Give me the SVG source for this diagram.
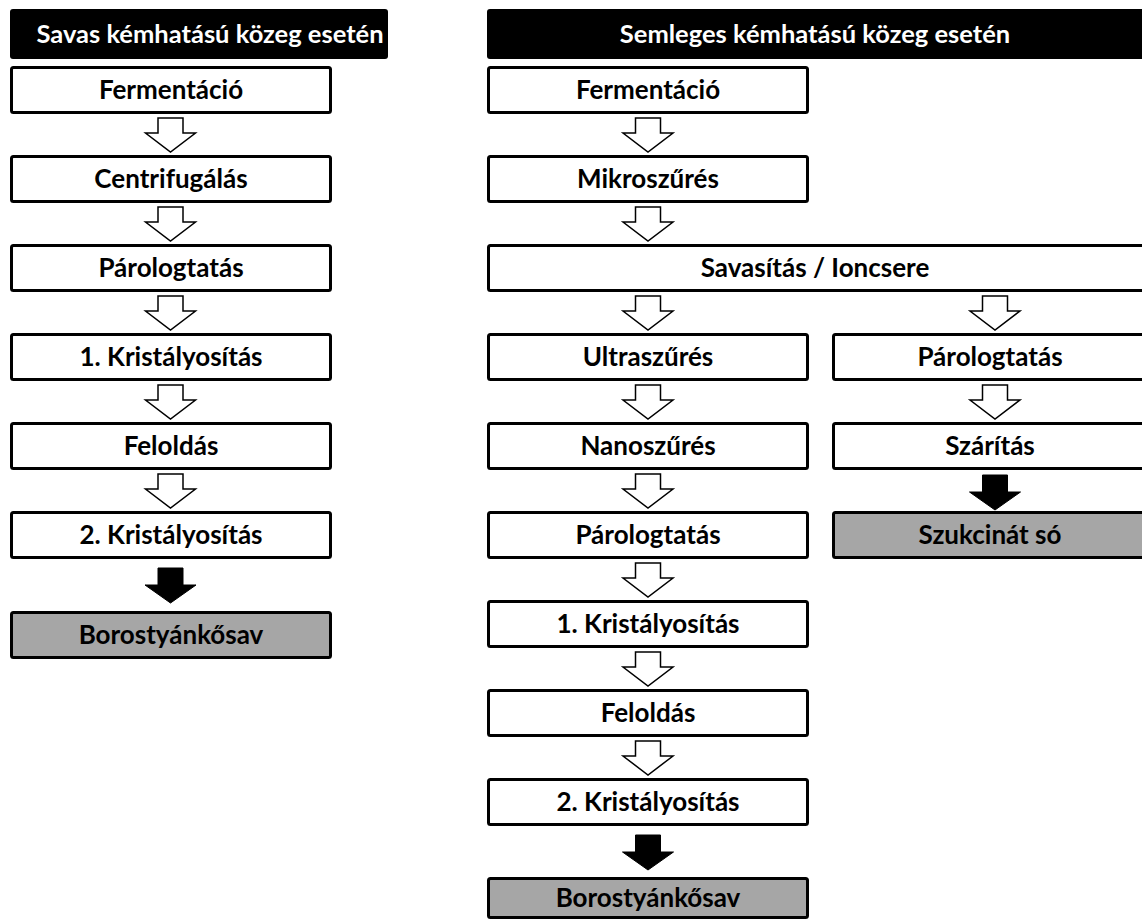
<svg xmlns="http://www.w3.org/2000/svg" width="1142" height="920" viewBox="0 0 1142 920">
<defs>
<style>
.hdr{fill:#000;}
.hdrt{fill:#fff;font-family:Lato,"Liberation Sans",sans-serif;font-weight:bold;font-size:25.5px;text-anchor:middle;}
.box{fill:#fff;stroke:#000;stroke-width:3;}
.res{fill:#a6a6a6;stroke:#000;stroke-width:3;}
.t{fill:#000;font-family:Lato,"Liberation Sans",sans-serif;font-weight:bold;font-size:26px;text-anchor:middle;}
.oa{fill:#fff;stroke:#000;stroke-width:1.5;stroke-linejoin:miter;}
.ba{fill:#000;stroke:#000;stroke-width:1;}
</style>
<path id="oarr" d="M-12.5,0 H12.5 V15 H25 L0,34 L-25,15 H-12.5 Z"/>
<path id="barr" d="M-12.5,0 H12.5 V17 H25.5 L0,35 L-25.5,17 H-12.5 Z"/>
</defs>

<g id="connectors">
<use href="#oarr" class="oa" x="170.5" y="118"/>
<use href="#oarr" class="oa" x="170.5" y="207"/>
<use href="#oarr" class="oa" x="170.5" y="296"/>
<use href="#oarr" class="oa" x="170.5" y="385"/>
<use href="#oarr" class="oa" x="170.5" y="474"/>
<use href="#barr" class="ba" x="170.5" y="568"/>

<use href="#oarr" class="oa" x="648" y="118"/>
<use href="#oarr" class="oa" x="648" y="207"/>
<use href="#oarr" class="oa" x="648" y="296"/>
<use href="#oarr" class="oa" x="995" y="296"/>
<use href="#oarr" class="oa" x="648" y="385"/>
<use href="#oarr" class="oa" x="995" y="385"/>
<use href="#oarr" class="oa" x="648" y="474"/>
<use href="#barr" class="ba" x="995" y="475"/>
<use href="#oarr" class="oa" x="648" y="563"/>
<use href="#oarr" class="oa" x="648" y="652"/>
<use href="#oarr" class="oa" x="648" y="741"/>
<use href="#barr" class="ba" x="648" y="835"/>
</g>

<g id="hdr-left">
<rect class="hdr" x="10" y="9" width="378" height="50" rx="3"/>
<text class="hdrt" x="210" y="43">Savas kémhatású közeg esetén</text>
</g>
<g id="hdr-right">
<rect class="hdr" x="487" y="9" width="670" height="50" rx="3"/>
<text class="hdrt" x="815" y="43">Semleges kémhatású közeg esetén</text>
</g>

<g id="l1"><rect class="box" x="11.5" y="67.5" width="319" height="45" rx="2"/><text class="t" x="171" y="99">Fermentáció</text></g>
<g id="l2"><rect class="box" x="11.5" y="156.5" width="319" height="45" rx="2"/><text class="t" x="171" y="188">Centrifugálás</text></g>
<g id="l3"><rect class="box" x="11.5" y="245.5" width="319" height="45" rx="2"/><text class="t" x="171" y="277">Párologtatás</text></g>
<g id="l4"><rect class="box" x="11.5" y="334.5" width="319" height="45" rx="2"/><text class="t" x="171" y="366">1. Kristályosítás</text></g>
<g id="l5"><rect class="box" x="11.5" y="423.5" width="319" height="45" rx="2"/><text class="t" x="171" y="455">Feloldás</text></g>
<g id="l6"><rect class="box" x="11.5" y="512.5" width="319" height="45" rx="2"/><text class="t" x="171" y="544">2. Kristályosítás</text></g>
<g id="l7"><rect class="res" x="11.5" y="612.5" width="319" height="45" rx="2"/><text class="t" x="171" y="644">Borostyánkősav</text></g>

<g id="r1"><rect class="box" x="488.5" y="67.5" width="319" height="45" rx="2"/><text class="t" x="648" y="99">Fermentáció</text></g>
<g id="r2"><rect class="box" x="488.5" y="156.5" width="319" height="45" rx="2"/><text class="t" x="648" y="188">Mikroszűrés</text></g>
<g id="r3"><rect class="box" x="488.5" y="245.5" width="660" height="45" rx="2"/><text class="t" x="815" y="277">Savasítás / Ioncsere</text></g>
<g id="r4"><rect class="box" x="488.5" y="334.5" width="319" height="45" rx="2"/><text class="t" x="648" y="366">Ultraszűrés</text></g>
<g id="r5"><rect class="box" x="488.5" y="423.5" width="319" height="45" rx="2"/><text class="t" x="648" y="455">Nanoszűrés</text></g>
<g id="r6"><rect class="box" x="488.5" y="512.5" width="319" height="45" rx="2"/><text class="t" x="648" y="544">Párologtatás</text></g>
<g id="r7"><rect class="box" x="488.5" y="601.5" width="319" height="45" rx="2"/><text class="t" x="648" y="633">1. Kristályosítás</text></g>
<g id="r8"><rect class="box" x="488.5" y="690.5" width="319" height="45" rx="2"/><text class="t" x="648" y="722">Feloldás</text></g>
<g id="r9"><rect class="box" x="488.5" y="779.5" width="319" height="45" rx="2"/><text class="t" x="648" y="811">2. Kristályosítás</text></g>
<g id="r10"><rect class="res" x="488.5" y="878.5" width="319" height="39" rx="2"/><text class="t" x="648" y="907">Borostyánkősav</text></g>

<g id="s1"><rect class="box" x="833.5" y="334.5" width="320" height="45" rx="2"/><text class="t" x="990" y="366">Párologtatás</text></g>
<g id="s2"><rect class="box" x="833.5" y="423.5" width="320" height="45" rx="2"/><text class="t" x="990" y="455">Szárítás</text></g>
<g id="s3"><rect class="res" x="833.5" y="512.5" width="320" height="45" rx="2"/><text class="t" x="990" y="544">Szukcinát só</text></g>
</svg>
